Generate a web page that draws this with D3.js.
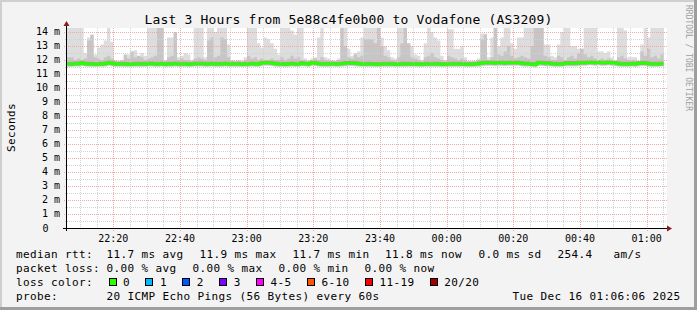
<!DOCTYPE html>
<html><head><meta charset="utf-8">
<script src="https://cdn.jsdelivr.net/npm/d3@7"></script>
<style>html,body{margin:0;padding:0;background:#f3f3f3;} svg{display:block;}</style>
</head><body><svg id="c" width="697" height="310"></svg>
<script>
// ---------------- data ----------------
const title = "Last 3 Hours from 5e88c4fe0b00 to Vodafone (AS3209)";
const yAxisLabel = "Seconds";
const sideLabel = "RRDTOOL / TOBI OETIKER";
const yTickValues = [0,1,2,3,4,5,6,7,8,9,10,11,12,13,14];
const yMaxMs = 14.2857;
const timeStart = new Date(2025, 11, 15, 22, 6, 6);
const timeEnd = new Date(2025, 11, 16, 1, 6, 6);

// top of outer (lightest) smoke per minute, ms
const smokeHi = [
14.5,14.5,14.5,14.5,14.5,12.5,13.6,13.8,12.4,12.9,13.1,13.4,14.5,13.3,12.0,11.95,12.0,12.2,12.4,12.6,
12.7,12.3,12.5,12.3,14.5,14.5,14.5,14.5,14.5,12.0,13.6,13.6,14.0,12.2,12.3,12.5,12.4,12.0,14.5,14.5,
14.5,12.2,14.5,14.5,14.0,14.5,14.5,14.5,13.1,12.0,11.95,12.0,11.95,12.2,14.5,14.5,14.5,13.2,12.9,13.6,
13.5,13.2,12.8,12.4,14.5,14.5,14.3,14.1,13.8,14.5,14.5,12.1,12.0,12.1,12.2,13.6,14.5,12.2,12.1,12.0,
11.95,12.1,14.5,14.5,12.8,12.3,12.5,12.6,13.6,14.5,14.5,14.5,14.5,14.5,13.6,13.0,12.7,12.2,12.1,14.5,
14.5,14.5,13.2,13.0,12.4,12.3,12.0,13.2,14.5,14.0,13.6,13.4,12.3,12.0,14.2,14.2,12.8,12.8,13.0,12.2,
11.95,11.95,11.95,12.1,13.9,13.9,12.2,13.6,14.5,13.0,13.6,14.5,14.5,13.2,12.8,13.6,13.6,14.3,14.3,14.3,
14.5,14.5,14.5,13.1,13.1,12.3,12.2,13.1,14.0,14.3,14.3,13.0,13.0,12.8,12.8,14.5,14.5,14.5,14.5,12.6,
12.6,12.5,12.6,12.2,11.95,14.5,14.5,14.1,12.2,12.2,12.2,11.95,13.1,14.3,13.6,14.5,14.5,14.5,14.5
];
// top of inner (medium) smoke per minute, ms
const smokeMid = [
12.2,12.2,12.0,12.1,12.0,12.1,13.4,13.8,12.2,12.1,12.0,12.2,12.3,12.1,11.95,11.9,11.95,12.4,12.1,12.6,
12.2,12.3,12.2,12.0,12.1,12.2,12.3,14.5,14.5,11.95,12.2,12.3,14.0,12.0,12.1,12.0,12.0,11.9,12.1,12.2,
12.1,12.0,13.4,13.6,12.2,12.3,13.6,13.5,12.2,11.95,11.9,11.95,11.9,12.0,12.3,12.1,12.2,12.0,12.1,12.0,
12.0,12.1,12.0,12.0,12.2,12.0,12.1,12.3,12.1,12.2,12.0,11.95,11.9,12.0,12.1,12.0,12.2,12.0,11.95,11.9,
11.9,12.0,14.5,13.0,12.2,12.1,12.4,12.2,12.3,13.5,13.5,13.5,13.2,14.5,13.0,12.3,12.2,12.0,11.95,12.2,
13.2,14.5,13.2,12.2,12.1,12.0,11.9,12.2,12.3,12.5,12.2,12.1,12.0,11.9,12.3,12.2,12.1,12.0,12.1,12.0,
11.9,11.9,11.9,12.0,13.5,13.8,12.0,12.2,14.3,12.4,12.3,12.6,13.0,12.3,12.1,12.2,12.3,12.2,12.1,13.0,
14.5,14.5,14.5,12.3,12.2,12.0,12.0,12.3,12.2,12.0,12.2,12.3,12.1,12.5,12.8,12.4,12.2,12.3,12.1,12.0,
12.1,12.0,12.1,12.0,11.9,12.2,12.3,12.1,12.0,11.95,12.0,11.9,12.6,12.3,12.8,12.2,12.3,12.1,12.4
];
// median rtt per minute, ms
const medianRtt = [
11.72,11.72,11.74,11.74,11.78,11.74,11.72,11.72,11.70,11.72,11.72,11.74,11.80,11.76,11.72,11.72,11.72,11.72,11.70,11.70,
11.72,11.72,11.72,11.72,11.74,11.74,11.72,11.72,11.74,11.70,11.72,11.72,11.74,11.72,11.72,11.72,11.70,11.72,11.74,11.74,
11.74,11.72,11.72,11.74,11.72,11.72,11.72,11.74,11.72,11.72,11.72,11.72,11.70,11.72,11.72,11.74,11.72,11.72,11.78,11.80,
11.80,11.78,11.74,11.72,11.72,11.70,11.72,11.74,11.72,11.72,11.76,11.74,11.72,11.80,11.78,11.74,11.72,11.72,11.72,11.74,
11.72,11.72,11.74,11.76,11.78,11.78,11.76,11.74,11.72,11.72,11.72,11.72,11.70,11.70,11.72,11.72,11.72,11.72,11.70,11.70,
11.72,11.72,11.72,11.72,11.72,11.70,11.70,11.72,11.72,11.72,11.72,11.72,11.70,11.70,11.72,11.72,11.72,11.72,11.72,11.70,
11.70,11.70,11.72,11.74,11.78,11.80,11.80,11.80,11.78,11.80,11.80,11.78,11.80,11.80,11.80,11.80,11.76,11.74,11.74,11.70,
11.68,11.80,11.80,11.76,11.76,11.74,11.72,11.72,11.72,11.76,11.76,11.76,11.76,11.78,11.80,11.80,11.82,11.82,11.80,11.82,
11.80,11.80,11.82,11.80,11.78,11.74,11.72,11.72,11.72,11.74,11.72,11.76,11.78,11.78,11.74,11.72,11.72,11.72,11.74
];

const legendRtt = [["median rtt:",16],["11.7 ms avg",106.5],["11.9 ms max",199.5],["11.7 ms min",292.5],["11.8 ms now",385],["0.0 ms sd",478.5],["254.4   am/s",557.5]];
const legendLoss = [["packet loss:",16],["0.00 % avg",106.5],["0.00 % max",192.5],["0.00 % min",278.5],["0.00 % now",364.5]];
const lossLabels = ["0","1","2","3","4-5","6-10","11-19","20/20"];
const lossColors = ["#26ff00","#00b8ff","#0059ff","#7e00ff","#ff00ff","#ff5500","#ff0000","#a10000"];
const probeText = "20 ICMP Echo Pings (56 Bytes) every 60s";
const dateText = "Tue Dec 16 01:06:06 2025";

// ---------------- drawing ----------------
const W = 697, H = 310;
const L = 67, R = 667, T = 28, B = 228;
const svg = d3.select("#c");
const MONO = "'DejaVu Sans Mono', monospace";

svg.append("rect").attr("width", W).attr("height", H).attr("fill", "#f3f3f3");
// 3D frame
svg.append("rect").attr("x",0).attr("y",0).attr("width",W).attr("height",2).attr("fill","#cfcfcf");
svg.append("rect").attr("x",0).attr("y",0).attr("width",2).attr("height",H).attr("fill","#cfcfcf");
svg.append("rect").attr("x",0).attr("y",H-3).attr("width",W).attr("height",3).attr("fill","#9e9e9e");
svg.append("rect").attr("x",W-3).attr("y",0).attr("width",3).attr("height",H).attr("fill","#9e9e9e");

const x = d3.scaleTime().domain([timeStart, timeEnd]).range([L, R]);
const y = d3.scaleLinear().domain([0, yMaxMs]).range([B, T]);

svg.append("rect").attr("x", L).attr("y", T).attr("width", R - L).attr("height", B - T).attr("fill", "#ffffff");

svg.append("clipPath").attr("id","cp").append("rect").attr("x",L).attr("y",T).attr("width",R-L).attr("height",B-T);

const n = medianRtt.length;
const pts = d3.range(n + 1).map(k => {
  const i = Math.min(k, n - 1);
  return {t: d3.timeMinute.offset(timeStart, k), hi: smokeHi[i], mid: smokeMid[i], med: medianRtt[i]};
});
const g = svg.append("g").attr("clip-path","url(#cp)");
const areaOf = (f0, f1) => d3.area().curve(d3.curveStepAfter).x(d => x(d.t)).y0(d => y(f0(d))).y1(d => y(f1(d)));
g.append("path").datum(pts).attr("d", areaOf(d => d.med - 0.22, d => d.hi)).attr("fill", "#dddddd");
g.append("path").datum(pts).attr("d", areaOf(d => d.med - 0.17, d => d.mid)).attr("fill", "#c6c6c6");
g.append("path").datum(pts).attr("d", areaOf(d => d.med - 0.13, d => d.med + 0.16)).attr("fill", "#a4a4a4");

// grid
const gridG = svg.append("g").attr("shape-rendering","crispEdges");
const minorX = x.ticks(d3.timeMinute.every(5)).filter(t => t.getMinutes() % 20 !== 0);
const majorX = x.ticks(d3.timeMinute.every(20));
const minorY = yTickValues.slice(0, -1).map(v => v + 0.5);
const majorY = yTickValues.filter(v => v > 0);
const minorCol = "#d2d2d2", majorCol = "#f0a8a8";
minorX.forEach(t => {
  const xx = Math.round(x(t)) + 0.5;
  gridG.append("line").attr("x1",xx).attr("x2",xx).attr("y1",T).attr("y2",B+2).attr("stroke",minorCol).attr("stroke-dasharray","1,1");
});
minorY.forEach(v => {
  const yy = Math.round(y(v)) + 0.5;
  gridG.append("line").attr("x1",L-2).attr("x2",R).attr("y1",yy).attr("y2",yy).attr("stroke",minorCol).attr("stroke-dasharray","1,1");
});
majorX.forEach(t => {
  const xx = Math.round(x(t)) + 0.5;
  gridG.append("line").attr("x1",xx).attr("x2",xx).attr("y1",T).attr("y2",B+3).attr("stroke",majorCol).attr("stroke-dasharray","1,1");
});
majorY.forEach(v => {
  const yy = Math.round(y(v)) + 0.5;
  gridG.append("line").attr("x1",L-3).attr("x2",R).attr("y1",yy).attr("y2",yy).attr("stroke",majorCol).attr("stroke-dasharray","1,1");
});

// median line
svg.append("g").attr("clip-path","url(#cp)").append("path").datum(pts)
  .attr("d", d3.line().curve(d3.curveStepAfter).x(d => x(d.t)).y(d => y(d.med)))
  .attr("fill","none").attr("stroke", lossColors[0]).attr("stroke-width", 3);

// axes
const axG = svg.append("g").attr("shape-rendering","crispEdges");
axG.append("line").attr("x1",L-4).attr("x2",R+1).attr("y1",B+0.5).attr("y2",B+0.5).attr("stroke","#000");
axG.append("line").attr("x1",L-0.5).attr("x2",L-0.5).attr("y1",B+3).attr("y2",T-3).attr("stroke","#000");
svg.append("path").attr("d",`M${R+5},${B+0.5} L${R},${B-2.5} L${R},${B+3.5} Z`).attr("fill","#8b1a1a");
svg.append("path").attr("d",`M${L-0.5},${T-7} L${L-3.5},${T-2} L${L+2.5},${T-2} Z`).attr("fill","#8b1a1a");

// y labels
yTickValues.forEach(v => {
  const yy = y(v) + 3.5;
  svg.append("text").attr("x", v === 0 ? 48.5 : 60).attr("y", yy).attr("text-anchor","end")
    .attr("font-family", MONO).attr("font-size", 10).attr("fill","#000")
    .text(v === 0 ? "0" : `${v} m`);
});
// x labels
const fmt = d3.timeFormat("%H:%M");
majorX.forEach(t => {
  svg.append("text").attr("x", x(t)).attr("y", 242).attr("text-anchor","middle")
    .attr("font-family", MONO).attr("font-size", 10).attr("fill","#000").text(fmt(t));
});

// title
svg.append("text").attr("x", 348.5).attr("y", 24).attr("text-anchor","middle")
  .attr("font-family", MONO).attr("font-size", 13).attr("letter-spacing", 0.17).attr("fill","#000").text(title);
// y axis label
svg.append("text").attr("transform","translate(14.5,127.5) rotate(-90)").attr("text-anchor","middle")
  .attr("font-family", MONO).attr("font-size", 11).attr("letter-spacing", 0.38).attr("fill","#000").text(yAxisLabel);
// side label
svg.append("text").attr("transform","translate(685.5,5) rotate(90)").attr("text-anchor","start")
  .attr("font-family", MONO).attr("font-size", 8).attr("fill","#a0a0a0").text(sideLabel);

// legend
const leg = (txt, xx, yy, anchor) => svg.append("text").attr("x", xx).attr("y", yy).attr("text-anchor", anchor || "start")
  .attr("font-family", MONO).attr("font-size", 11).attr("letter-spacing", 0.38).attr("fill","#000")
  .style("white-space","pre").attr("xml:space","preserve").text(txt);
legendRtt.forEach(([t, xx]) => leg(t, xx, 257.5));
legendLoss.forEach(([t, xx]) => leg(t, xx, 271.5));
leg("loss color:", 16, 285.5);
let cur = 108.5;
lossLabels.forEach((lab, i) => {
  svg.append("rect").attr("x", cur + 0.5).attr("y", 278.5).attr("width", 7).attr("height", 7)
    .attr("fill", lossColors[i]).attr("stroke", "#000").attr("stroke-width", 1).attr("shape-rendering","crispEdges");
  const lx = cur + 14.5;
  leg(lab, lx, 285.5);
  cur = lx + lab.length * 7 + 15.4;
});
leg("probe:", 16, 299.5);
leg(probeText, 106.5, 299.5);
leg(dateText, 680.5, 299.5, "end");
</script>
</body></html>
